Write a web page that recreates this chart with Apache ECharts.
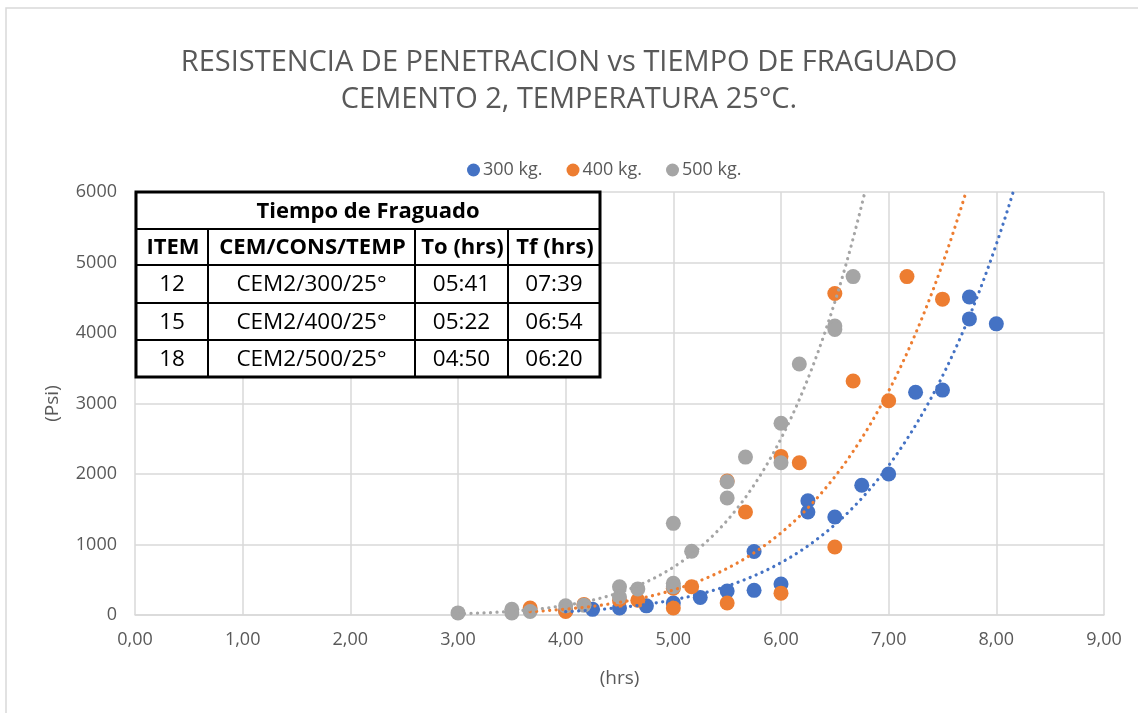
<!DOCTYPE html>
<html>
<head>
<meta charset="utf-8">
<script src="https://cdn.jsdelivr.net/npm/echarts@6/dist/echarts.min.js"></script>
<style>
  html, body { margin: 0; padding: 0; background: #ffffff; }
  #chart { width: 1138px; height: 713px; }
</style>
</head>
<body>
<div id="chart"></div>
<script>
// Penetration resistance (psi) against elapsed time (hrs), three cement contents
const seriesNames = ['300 kg.', '400 kg.', '500 kg.'];

const x300 = [4.0, 4.25, 4.5, 4.75, 5.0, 5.25, 5.5, 5.75, 5.75, 6.0, 6.25, 6.25, 6.5, 6.75, 7.0, 7.25, 7.5, 7.75, 7.75, 8.0];
const y300 = [60, 80, 100, 130, 170, 250, 340, 350, 900, 440, 1620, 1460, 1390, 1840, 2000, 3160, 3190, 4510, 4200, 4130];

const x400 = [3.67, 4.0, 4.17, 4.5, 4.67, 5.0, 5.0, 5.17, 5.5, 5.5, 5.67, 6.0, 6.0, 6.17, 6.5, 6.5, 6.67, 7.0, 7.17, 7.5];
const y400 = [100, 50, 150, 210, 210, 100, 380, 400, 170, 1900, 1460, 310, 2250, 2160, 965, 4560, 3320, 3040, 4800, 4480];

const x500 = [3.0, 3.5, 3.5, 3.67, 4.0, 4.17, 4.5, 4.5, 4.67, 5.0, 5.0, 5.0, 5.17, 5.5, 5.5, 5.67, 6.0, 6.0, 6.17, 6.5, 6.5, 6.67];
const y500 = [30, 80, 30, 50, 130, 140, 400, 255, 370, 1300, 450, 400, 905, 1890, 1660, 2240, 2720, 2160, 3560, 4100, 4050, 4800];

// Axis ticks
const xMin = 0, xMax = 9, xStep = 1;
const yMin = 0, yMax = 6000, yStep = 1000;

// Setting-time table
const tableTitle = 'Tiempo de Fraguado';
const tableHead = ['ITEM', 'CEM/CONS/TEMP', 'To (hrs)', 'Tf (hrs)'];
const tableRows = [
  ['12', 'CEM2/300/25°', '05:41', '07:39'],
  ['15', 'CEM2/400/25°', '05:22', '06:54'],
  ['18', 'CEM2/500/25°', '04:50', '06:20']
];

const colors = ['#4472C4', '#ED7D31', '#A5A5A5'];
const FONT = '"Open Sans", "Noto Sans", sans-serif';

// Power trend line  y = a * x^b  (least squares on ln x, ln y)
function powerTrend(xs, ys) {
  const n = xs.length;
  let sx = 0, sy = 0, sxx = 0, sxy = 0;
  for (let i = 0; i < n; i++) {
    const lx = Math.log(xs[i]), ly = Math.log(ys[i]);
    sx += lx; sy += ly; sxx += lx * lx; sxy += lx * ly;
  }
  const b = (n * sxy - sx * sy) / (n * sxx - sx * sx);
  const a = Math.exp((sy - b * sx) / n);
  const start = Math.min.apply(null, xs);
  const end = Math.min(xMax, Math.pow(yMax / a, 1 / b));
  const pts = [];
  const steps = 120;
  for (let i = 0; i <= steps; i++) {
    const x = start + (end - start) * i / steps;
    pts.push([x, a * Math.pow(x, b)]);
  }
  return pts;
}

function pairs(xs, ys) { return xs.map((x, i) => [x, ys[i]]); }

const groups = [[x300, y300], [x400, y400], [x500, y500]];

const scatterSeries = groups.map((g, i) => ({
  name: seriesNames[i],
  type: 'scatter',
  data: pairs(g[0], g[1]),
  symbol: 'circle',
  symbolSize: 15,
  itemStyle: { color: colors[i], opacity: 1 },
  z: 3 + i,
  emphasis: { disabled: true }
}));

const trendSeries = groups.map((g, i) => ({
  name: seriesNames[i] + ' trend',
  type: 'line',
  data: powerTrend(g[0], g[1]),
  showSymbol: false,
  symbol: 'none',
  smooth: false,
  clip: true,
  lineStyle: { color: colors[i], width: 3.2, type: [0.1, 6.4], cap: 'round' },
  z: 10,
  silent: true
}));

// Table layout
const colEdges = [136, 208, 415, 508, 600];
const rowEdges = [192, 229, 265, 303, 340, 377];

function buildTable() {
  const els = [];
  const L = colEdges[0], R = colEdges[colEdges.length - 1];
  const T = rowEdges[0], B = rowEdges[rowEdges.length - 1];
  els.push({ type: 'rect', shape: { x: L, y: T, width: R - L, height: B - T },
    style: { fill: '#ffffff', stroke: null }, z: 50 });
  // horizontal rules
  for (let r = 1; r < rowEdges.length - 1; r++) {
    els.push({ type: 'line', shape: { x1: L, y1: rowEdges[r], x2: R, y2: rowEdges[r] },
      style: { stroke: '#000', lineWidth: 2 }, z: 51 });
  }
  // vertical rules below the title row
  for (let c = 1; c < colEdges.length - 1; c++) {
    els.push({ type: 'line', shape: { x1: colEdges[c], y1: rowEdges[1], x2: colEdges[c], y2: B },
      style: { stroke: '#000', lineWidth: 2 }, z: 51 });
  }
  els.push({ type: 'rect', shape: { x: L, y: T, width: R - L, height: B - T },
    style: { fill: null, stroke: '#000', lineWidth: 3 }, z: 52 });
  // title row
  els.push({ type: 'text', x: (L + R) / 2, y: (rowEdges[0] + rowEdges[1]) / 2 + 1, z: 53,
    style: { text: tableTitle, font: 'bold 22px ' + FONT, fill: '#000', align: 'center', verticalAlign: 'middle' } });
  tableHead.forEach((t, c) => {
    els.push({ type: 'text', x: (colEdges[c] + colEdges[c + 1]) / 2 + 1, y: (rowEdges[1] + rowEdges[2]) / 2 + 1, z: 53,
      style: { text: t, font: 'bold 22px ' + FONT, fill: '#000', align: 'center', verticalAlign: 'middle' } });
  });
  tableRows.forEach((row, r) => {
    row.forEach((t, c) => {
      els.push({ type: 'text', x: (colEdges[c] + colEdges[c + 1]) / 2, y: (rowEdges[r + 2] + rowEdges[r + 3]) / 2 + 1, z: 53,
        style: { text: t, font: '22.5px ' + FONT, fill: '#000', align: 'center', verticalAlign: 'middle' } });
    });
  });
  return els;
}

const chart = echarts.init(document.getElementById('chart'), null, { renderer: 'canvas' });

chart.setOption({
  animation: false,
  backgroundColor: '#ffffff',
  textStyle: { fontFamily: FONT },
  title: {
    text: 'RESISTENCIA DE PENETRACION vs TIEMPO DE FRAGUADO\nCEMENTO 2, TEMPERATURA 25°C.',
    left: 'center',
    top: 39,
    textStyle: { fontFamily: FONT, fontSize: 29, fontWeight: 'normal', color: '#595959', lineHeight: 37 }
  },
  legend: {
    data: seriesNames,
    top: 156,
    left: 462,
    itemWidth: 13,
    itemHeight: 13,
    itemGap: 24,
    icon: 'circle',
    textStyle: { fontFamily: FONT, fontSize: 18, color: '#595959', padding: [0, 0, 0, -2] }
  },
  grid: { left: 135, right: 34, top: 192, bottom: 98, containLabel: false },
  xAxis: {
    type: 'value',
    min: xMin, max: xMax, interval: xStep,
    name: '(hrs)',
    nameLocation: 'middle',
    nameGap: 54,
    nameTextStyle: { fontFamily: FONT, fontSize: 19, color: '#595959' },
    axisLine: { show: true, lineStyle: { color: '#d9d9d9', width: 1.5 } },
    axisTick: { show: false },
    axisLabel: { formatter: v => v.toFixed(2).replace('.', ','), fontFamily: FONT, fontSize: 18, color: '#595959', margin: 16 },
    splitLine: { show: true, lineStyle: { color: '#d9d9d9', width: 1.5 } }
  },
  yAxis: {
    type: 'value',
    min: yMin, max: yMax, interval: yStep,
    name: '(Psi)',
    nameLocation: 'middle',
    nameGap: 73,
    nameRotate: 90,
    nameTextStyle: { fontFamily: FONT, fontSize: 19, color: '#595959' },
    axisLine: { show: false },
    axisTick: { show: false },
    axisLabel: { formatter: v => String(v), fontFamily: FONT, fontSize: 18, color: '#595959', margin: 18 },
    splitLine: { show: true, lineStyle: { color: '#d9d9d9', width: 1.5 } }
  },
  graphic: [
    { type: 'rect', shape: { x: 6, y: 8, width: 1140, height: 710 },
      style: { fill: null, stroke: '#d9d9d9', lineWidth: 1.5 }, z: 0, silent: true }
  ].concat(buildTable()),
  series: scatterSeries.concat(trendSeries)
});
</script>
</body>
</html>
